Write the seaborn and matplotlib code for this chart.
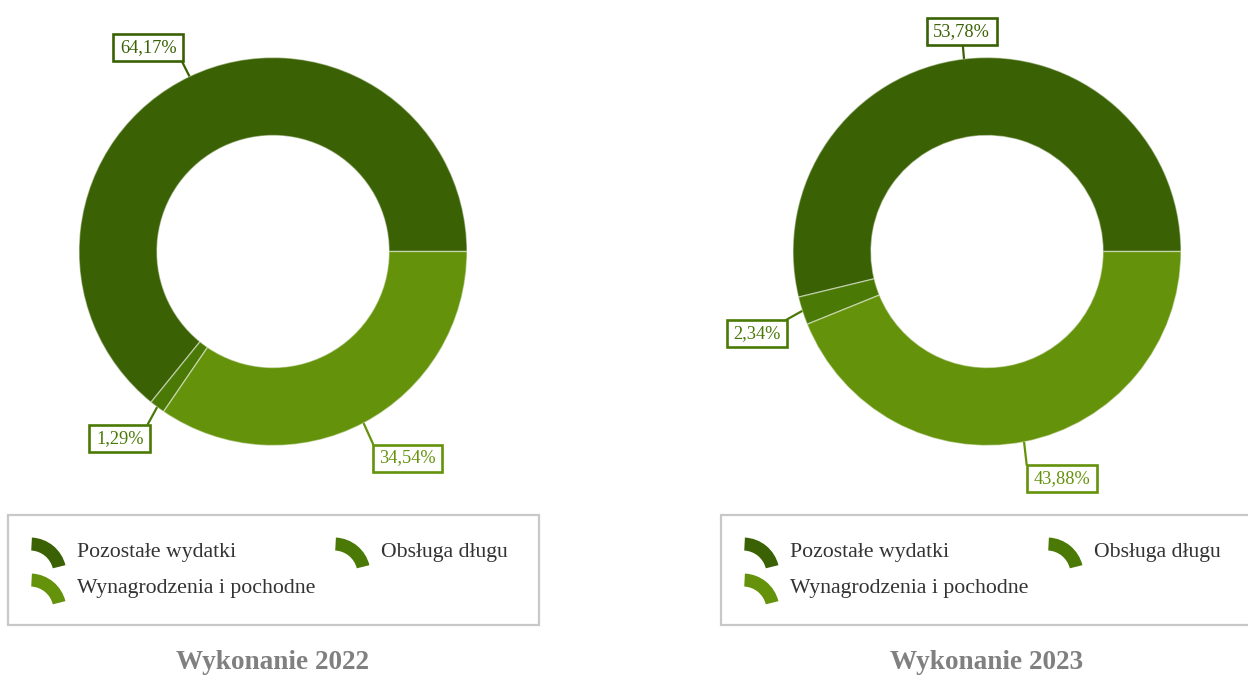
import matplotlib
matplotlib.use("Agg")
import numpy as np
import matplotlib.pyplot as plt
from matplotlib.patches import Wedge, Rectangle
import seaborn as sns

# Budget structure (share of total expenditure, %)
categories = ["Pozostałe wydatki", "Obsługa długu", "Wynagrodzenia i pochodne"]
shares_2022 = [64.17, 1.29, 34.54]
shares_2023 = [53.78, 2.34, 43.88]
panel_titles = ["Wykonanie 2022", "Wykonanie 2023"]

sns.set_theme(style="white")
plt.rcParams["font.family"] = ["Liberation Serif", "DejaVu Serif"]

palette = sns.color_palette(["#3a6103", "#4a7906", "#64920b"])

W, H = 1248, 675
fig = plt.figure(figsize=(W / 100, H / 100), dpi=100)
ax = fig.add_axes([0, 0, 1, 1])

# panel geometry in pixel units (y grows downward)
centers = [(273, 251.5), (987, 251.5)]
outer_r, ring_w = 194, 78

# per-label leader end / box centre offsets from the wedge anchor point
leader_end = [
    [(-7.5, -15), (-9.7, 17.7), (9.8, 21.6)],
    [(-1.3, -14.4), (-17.3, 9.7), (2.7, 23.6)],
]
box_off = [
    [(-41.2, -29), (-37.5, 31), (44, 35)],
    [(-2.3, -27.7), (-45.6, 23), (37.7, 37)],
]

legend_x0 = [8, 721]
value_labels = []

for p, shares in enumerate([shares_2022, shares_2023]):
    cx, cy = centers[p]
    wedges, _ = ax.pie(
        shares, colors=palette, center=(cx, cy), radius=outer_r,
        startangle=0, counterclock=False,
        wedgeprops=dict(width=ring_w, edgecolor=(1, 1, 1, 0.45), linewidth=1.0),
    )
    for i, (w, v) in enumerate(zip(wedges, shares)):
        mid = np.deg2rad((w.theta1 + w.theta2) / 2)
        px = cx + outer_r * np.cos(mid)
        py = cy + outer_r * np.sin(mid)
        ex, ey = leader_end[p][i]
        bx, by = box_off[p][i]
        ax.plot([px, px + ex], [py, py + ey], color=palette[i], lw=1.6,
                zorder=3, solid_capstyle="butt")
        t = ax.text(px + bx, py + by, f"{v:.2f}".replace(".", ",") + "%",
                    ha="center", va="center", fontsize=13.2, color=palette[i],
                    zorder=6)
        value_labels.append((t, palette[i], py + by))

    # legend frame
    lx = legend_x0[p]
    ax.add_patch(Rectangle((lx, 515), 531, 110, facecolor="white",
                           edgecolor="#c8c8c8", linewidth=1.6, zorder=1))
    slots = [(lx, 0), (lx + 304, 0), (lx, 36)]
    for i, (sx, dy) in enumerate(slots):
        ax.add_patch(Wedge((sx + 22, 574 + dy), 36.5, -87, -14, width=13,
                           facecolor=palette[i], edgecolor="none", zorder=2))
        ax.text(sx + 69, 552 + dy, categories[i], ha="left", va="center",
                fontsize=15.7, color="#333333", zorder=2)

    ax.text(cx, 662.5, panel_titles[p], ha="center", va="center",
            fontsize=19.6, fontweight="bold", color="#808080")

# pie() resets the limits, so fix the pixel frame before measuring text
ax.set_xlim(0, W)
ax.set_ylim(H, 0)
ax.set_aspect("auto")
ax.axis("off")

# framed boxes around the value labels, sized from the rendered text
fig.canvas.draw()
renderer = fig.canvas.get_renderer()
inv = ax.transData.inverted()
for t, col, yc in value_labels:
    bb = t.get_window_extent(renderer)
    (x0, _), (x1, _) = inv.transform([[bb.x0, bb.y0], [bb.x1, bb.y1]])
    x0, x1 = min(x0, x1) - 6.5, max(x0, x1) + 6.5
    ax.add_patch(Rectangle((x0, yc - 13.5), x1 - x0, 27, facecolor="white",
                           edgecolor=col, linewidth=1.9, zorder=5))

fig.savefig("out.png", dpi=100, facecolor="white")
